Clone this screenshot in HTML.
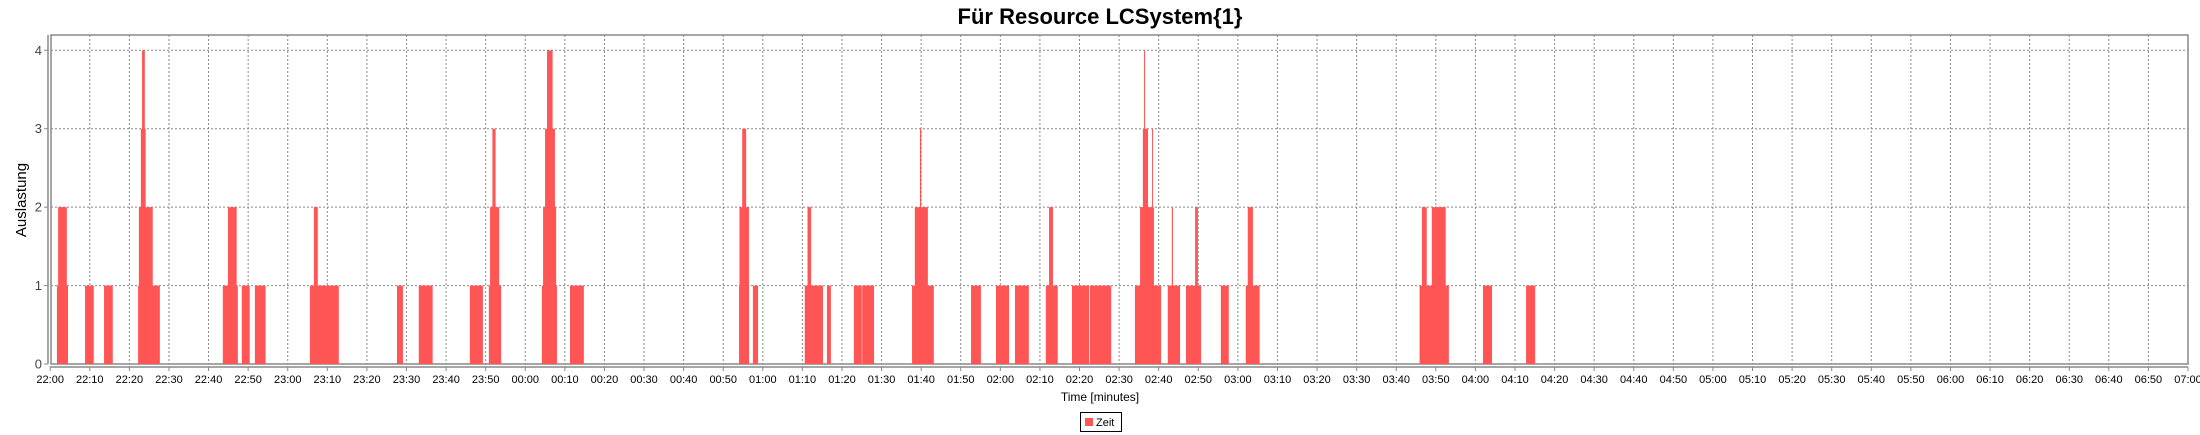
<!DOCTYPE html>
<html><head><meta charset="utf-8"><style>
html,body{margin:0;padding:0;background:#fff;width:2200px;height:435px;overflow:hidden}
svg{display:block;font-family:"Liberation Sans",sans-serif}
</style></head><body>
<svg id="chart" width="2200" height="435" viewBox="0 0 2200 435">
<text x="1100" y="24" text-anchor="middle" font-size="22" font-weight="bold" fill="#000">Für Resource LCSystem{1}</text>
<rect x="51" y="35" width="2137" height="329" fill="#fff" stroke="#888" stroke-width="1.5"/>
<g id="grid"></g>
<g id="bars"></g>
<line x1="50" y1="367" x2="2188" y2="367" stroke="#888" stroke-width="1.5"/>
<line x1="48" y1="35" x2="48" y2="364" stroke="#888" stroke-width="1.5"/>
<g id="xticks"></g>
<g id="yticks"></g>
<text x="1100" y="401" text-anchor="middle" font-size="12" fill="#000">Time [minutes]</text>
<text transform="translate(26,200) rotate(-90)" text-anchor="middle" font-size="15" fill="#000">Auslastung</text>
<g>
<rect x="1080.5" y="412.5" width="41" height="19" fill="#fff" stroke="#000" stroke-width="1"/>
<rect x="1085" y="418" width="8" height="8" fill="#ff5555"/>
<text x="1096" y="426" font-size="11" fill="#000">Zeit</text>
</g>
</svg>
<script>
// data: bars as minutes after 22:00
const barStart = [1.7,2,8.8,13.6,22.2,22.4,22.9,23.2,43.6,44.9,48.4,51.7,65.6,66.6,87.6,93.1,106,110.8,111.1,111.7,124.2,124.5,125,125.5,131.3,174,174.1,174.8,177.5,190.6,191.3,196.2,203,205.1,217.7,218.4,219.7,232.6,238.9,243.7,251.5,252.3,258.1,262.6,274,275.3,276,276.3,278.3,282.3,283.3,286.9,289.2,295.7,302,302.5,345.9,346.5,349.0,361.9,372.8];
const barEnd   = [4.5,4.2,11,15.8,27.7,25.9,24.1,23.9,47.4,47.1,50.4,54.4,72.9,67.6,89.1,96.6,109.3,113.9,113.4,112.5,128,127.8,127.5,126.9,134.8,176.5,176.5,175.8,178.8,195.2,192.2,197.2,205,208.1,223.2,221.7,220,235.1,242.2,247.2,254.5,253.3,262.4,268,280.6,278.8,277.3,276.5,278.5,285.4,283.6,290.7,289.9,297.7,305.5,303.8,353.3,347.7,352.5,364.2,375.1];
const barValue = [1,2,1,1,1,2,3,4,1,2,1,1,1,2,1,1,1,1,2,3,1,2,3,4,1,1,2,3,1,1,2,1,1,1,1,2,3,1,1,1,1,2,1,1,1,2,3,4,3,1,2,1,2,1,1,2,1,2,2,1,1];
const xTickLabels = [];
for (let h = 0; h <= 54; h++) { const m = h * 10; const hh = (22 + Math.floor(m / 60)) % 24; const mm = m % 60; xTickLabels.push(String(hh).padStart(2,'0') + ':' + String(mm).padStart(2,'0')); }
const yTickValues = [0,1,2,3,4];

const NS = 'http://www.w3.org/2000/svg';
const X0 = 50.2, X1 = 2188, Y0 = 364, YT = 50.3, XMAX = 540, YMAX = 4;
const xs = m => X0 + (X1 - X0) * m / XMAX;
const ys = v => Y0 - (Y0 - YT) * v / YMAX;
function mk(tag, attrs, parent) { const e = document.createElementNS(NS, tag); for (const k in attrs) e.setAttribute(k, attrs[k]); parent.appendChild(e); return e; }

const grid = document.getElementById('grid'), xt = document.getElementById('xticks'), yt = document.getElementById('yticks'), bars = document.getElementById('bars');
xTickLabels.forEach((lab, i) => {
  const x = xs(i * 10);
  if (i > 0 && i < xTickLabels.length - 1) {
    const g = mk('line', {x1:x, y1:35, x2:x, y2:364, stroke:'#888', 'stroke-width':1, 'stroke-dasharray':'2,2'}, grid);
    
    
  }
  const t = mk('line', {x1:x, y1:367, x2:x, y2:371, stroke:'#888', 'stroke-width':1}, xt);
  
  
  const tx = mk('text', {x:x, y:383, 'text-anchor':'middle', 'font-size':11, fill:'#000'}, xt);
  tx.textContent = lab;
  
  
});
yTickValues.forEach(v => {
  const y = ys(v);
  if (v > 0) {
    const g = mk('line', {x1:51, y1:y, x2:2188, y2:y, stroke:'#888', 'stroke-width':1, 'stroke-dasharray':'2,2'}, grid);
    
    
  }
  const t = mk('line', {x1:44, y1:y, x2:48, y2:y, stroke:'#888', 'stroke-width':1}, yt);
  
  
  const tx = mk('text', {x:42, y:y + 4.5, 'text-anchor':'end', 'font-size':13, fill:'#444'}, yt);
  tx.textContent = v;
  
  
});
barStart.forEach((s, i) => {
  const x = xs(s), w = Math.max(1, xs(barEnd[i]) - x), y = ys(barValue[i]);
  const r = mk('rect', {x:x, y:y, width:w, height:Y0 - y, fill:'#ff5555'}, bars);
  
  
});
</script>
</body></html>
